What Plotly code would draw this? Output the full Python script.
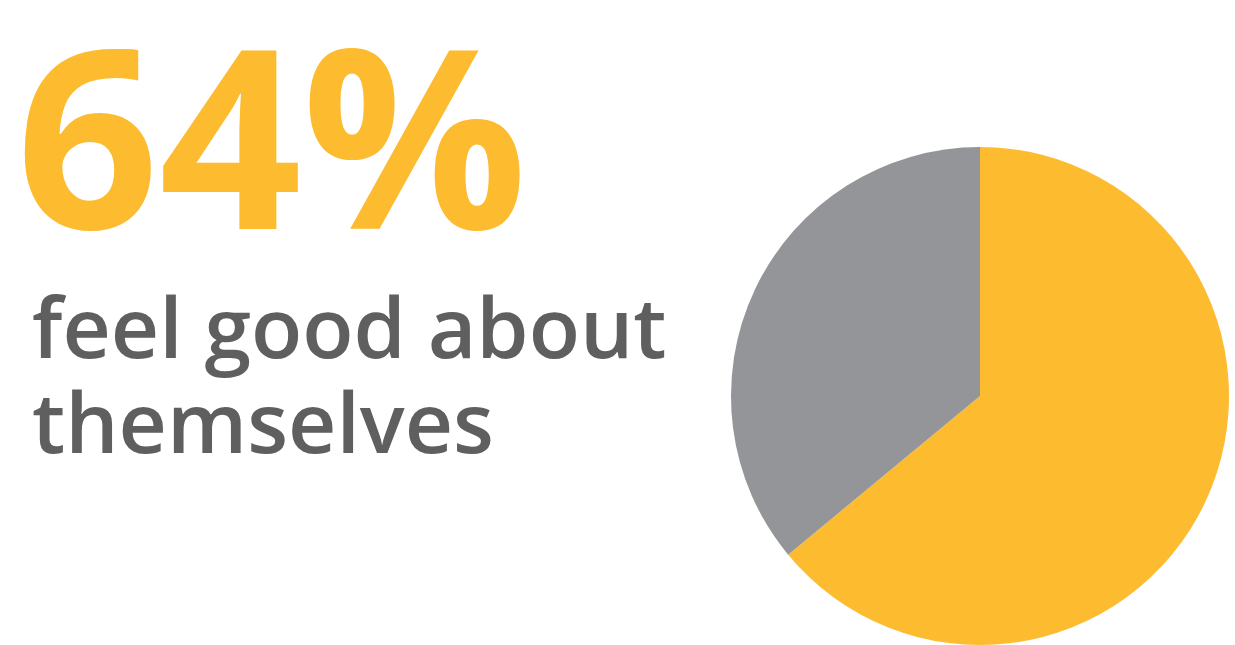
import plotly.graph_objects as go

labels = ["Feel good about themselves", "Do not"]
values = [64, 36]
colors = ["#FDBB30", "#939598"]
headline = "64%"
caption_lines = ["feel good about", "themselves"]

W, H = 1235, 645

fig = go.Figure(go.Pie(
    labels=labels, values=values, sort=False, direction="clockwise", rotation=0,
    marker=dict(colors=colors, line=dict(width=0)),
    textinfo="none", hoverinfo="label+percent", showlegend=False,
    domain=dict(x=[729 / W, 1231 / W], y=[0, (H - 147) / H]),
))

fig.add_annotation(text=headline, xref="paper", yref="paper", x=14 / W, y=1 - 132 / H,
                   xanchor="left", yanchor="middle", showarrow=False,
                   font=dict(family="'Open Sans', sans-serif",
                             size=250, color="#FDBB30", weight="bold"))
line_y = [325, 420]
for t, yy in zip(caption_lines, line_y):
    fig.add_annotation(text=t, xref="paper", yref="paper", x=30 / W, y=1 - yy / H,
                       xanchor="left", yanchor="middle", showarrow=False,
                       font=dict(family="Open Sans", size=84, color="#5f5f5f", weight=600))

fig.update_layout(width=W, height=H, margin=dict(l=0, r=0, t=0, b=0),
                  paper_bgcolor="white", plot_bgcolor="white")
fig.write_html("out.html")
